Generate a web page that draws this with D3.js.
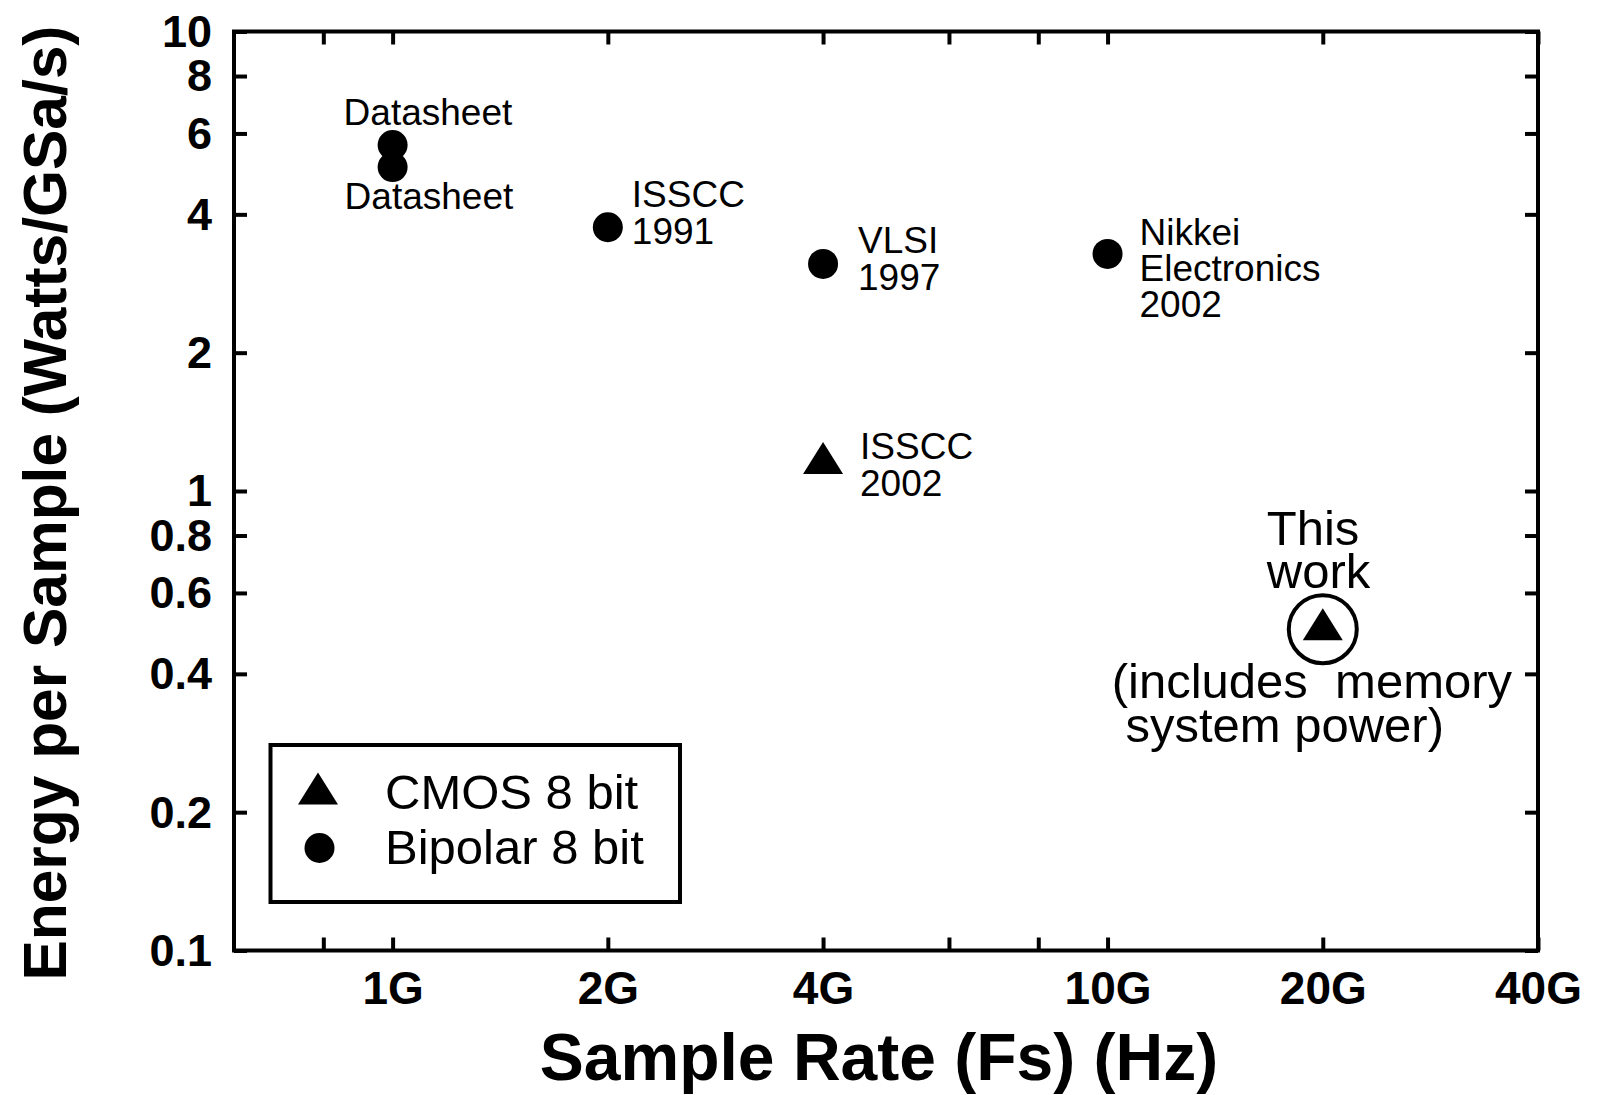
<!DOCTYPE html>
<html><head><meta charset="utf-8">
<script src="https://cdn.jsdelivr.net/npm/d3@7"></script>
<style>
html,body{margin:0;padding:0;background:#fff;}
svg{display:block;}
text{font-family:"Liberation Sans", Arial, Helvetica, sans-serif; fill:#000;}
</style></head><body>
<svg id="chart" width="1600" height="1095"></svg>
<script>
// ---------- data ----------
const seriesNames = ["CMOS 8 bit", "Bipolar 8 bit"];
const bipolarRate   = [1e9, 1e9, 2e9, 4e9, 10e9];
const bipolarEnergy = [5.66, 5.07, 3.75, 3.12, 3.28];
const bipolarLabels = ["Datasheet", "Datasheet", "ISSCC\n1991", "VLSI\n1997", "Nikkei\nElectronics\n2002"];
const cmosRate   = [4e9, 20e9];
const cmosEnergy = [1.18, 0.513];
const cmosLabels = ["ISSCC\n2002", "This\nwork"];
const annotationText = "(includes  memory\n system power)";
const xTickValues = [0.8e9, 1e9, 2e9, 4e9, 6e9, 8e9, 10e9, 20e9, 40e9];
const xTickLabels = ["", "1G", "2G", "4G", "", "", "10G", "20G", "40G"];
const yTickValues = [0.1, 0.2, 0.4, 0.6, 0.8, 1, 2, 4, 6, 8, 10];
const yTickLabels = ["0.1", "0.2", "0.4", "0.6", "0.8", "1", "2", "4", "6", "8", "10"];
const xTitle = "Sample Rate (Fs) (Hz)";
const yTitle = "Energy per Sample (Watts/GSa/s)";

// ---------- layout ----------
const M = {left: 234, right: 1538, top: 31.5, bottom: 950.5};
const svg = d3.select("#chart");
const x = d3.scaleLog().domain([0.6e9, 40e9]).range([M.left, M.right]);
const y = d3.scaleLog().domain([0.1, 10]).range([M.bottom, M.top]);
const TICK = 13, SW = 4;

function styleAxis(g) {
  g.select(".domain").remove();
  g.selectAll(".tick line").attr("stroke", "#000").attr("stroke-width", SW);
}

// frame
svg.append("rect").attr("x", M.left).attr("y", M.top)
  .attr("width", M.right - M.left).attr("height", M.bottom - M.top)
  .attr("fill", "none").attr("stroke", "#000").attr("stroke-width", SW);

// axes
const gB = svg.append("g").attr("transform", `translate(0,${M.bottom})`)
  .call(d3.axisBottom(x).tickValues(xTickValues).tickSize(-TICK).tickFormat((d, i) => xTickLabels[i]));
styleAxis(gB);
gB.selectAll(".tick text").attr("y", 53).attr("dy", null)
  .style("font-size", "46px").style("font-weight", "bold");

const gT = svg.append("g").attr("transform", `translate(0,${M.top})`)
  .call(d3.axisTop(x).tickValues(xTickValues).tickSize(-TICK).tickFormat(""));
styleAxis(gT);

const gL = svg.append("g").attr("transform", `translate(${M.left},0)`)
  .call(d3.axisLeft(y).tickValues(yTickValues).tickSize(-TICK).tickPadding(22).tickFormat((d, i) => yTickLabels[i]));
styleAxis(gL);
gL.selectAll(".tick text").attr("dy", "0.33em")
  .style("font-size", "45px").style("font-weight", "bold");

const gR = svg.append("g").attr("transform", `translate(${M.right},0)`)
  .call(d3.axisRight(y).tickValues(yTickValues).tickSize(-TICK).tickFormat(""));
styleAxis(gR);

// axis titles
svg.append("text").attr("x", 879).attr("y", 1080).attr("text-anchor", "middle")
  .style("font-size", "66px").style("font-weight", "bold").text(xTitle);
svg.append("text").attr("transform", "translate(66,503) rotate(-90)").attr("text-anchor", "middle")
  .attr("textLength", 955).attr("lengthAdjust", "spacingAndGlyphs")
  .style("font-size", "62px").style("font-weight", "bold").text(yTitle);

// markers
const triPath = "M0,-16L20,16L-20,16Z";
const bipolar = bipolarRate.map((r, i) => ({r, e: bipolarEnergy[i], label: bipolarLabels[i]}));
const cmos = cmosRate.map((r, i) => ({r, e: cmosEnergy[i], label: cmosLabels[i]}));

svg.append("g").selectAll("circle").data(bipolar).join("circle")
  .attr("cx", d => x(d.r)).attr("cy", d => y(d.e)).attr("r", 15).attr("fill", "#000");
svg.append("g").selectAll("path").data(cmos).join("path")
  .attr("d", triPath).attr("transform", d => `translate(${x(d.r)},${y(d.e)})`).attr("fill", "#000");

// highlight ring around "This work"
const tw = cmos[1];
svg.append("circle").attr("cx", x(tw.r)).attr("cy", y(tw.e) + 5).attr("r", 34)
  .attr("fill", "none").attr("stroke", "#000").attr("stroke-width", SW);

// point labels
const bipolarLayout = [
  {dx: -49, dy: -20, lh: 37, fs: 37},
  {dx: -48, dy: 42, lh: 37, fs: 37},
  {dx: 24, dy: -20, lh: 37, fs: 37},
  {dx: 35, dy: -11, lh: 37, fs: 37},
  {dx: 32, dy: -9, lh: 36, fs: 37}
];
const cmosLayout = [
  {dx: 37, dy: 1.5, lh: 37, fs: 37},
  {dx: -56, dy: -79, lh: 43, fs: 49}
];
function drawLabel(d, L) {
  const lines = d.label.split("\n");
  const t = svg.append("text").style("font-size", L.fs + "px").style("white-space", "pre");
  lines.forEach((s, k) => {
    t.append("tspan").attr("x", x(d.r) + L.dx).attr("y", y(d.e) + L.dy + k * L.lh).text(s);
  });
}
bipolar.forEach((d, i) => drawLabel(d, bipolarLayout[i]));
cmos.forEach((d, i) => drawLabel(d, cmosLayout[i]));

// annotation under "This work"
drawLabel({r: tw.r, e: tw.e, label: annotationText}, {dx: -211, dy: 74, lh: 44, fs: 49});

// legend
const lg = svg.append("g");
lg.append("rect").attr("x", 270.5).attr("y", 745).attr("width", 409.5).attr("height", 157)
  .attr("fill", "#fff").attr("stroke", "#000").attr("stroke-width", SW);
lg.append("path").attr("d", triPath).attr("transform", "translate(318,788.5)").attr("fill", "#000");
lg.append("circle").attr("cx", 319.5).attr("cy", 848).attr("r", 15).attr("fill", "#000");
lg.append("text").attr("x", 385).attr("y", 809).style("font-size", "49px").text(seriesNames[0]);
lg.append("text").attr("x", 385).attr("y", 864).style("font-size", "49px").text(seriesNames[1]);
</script>
</body></html>
